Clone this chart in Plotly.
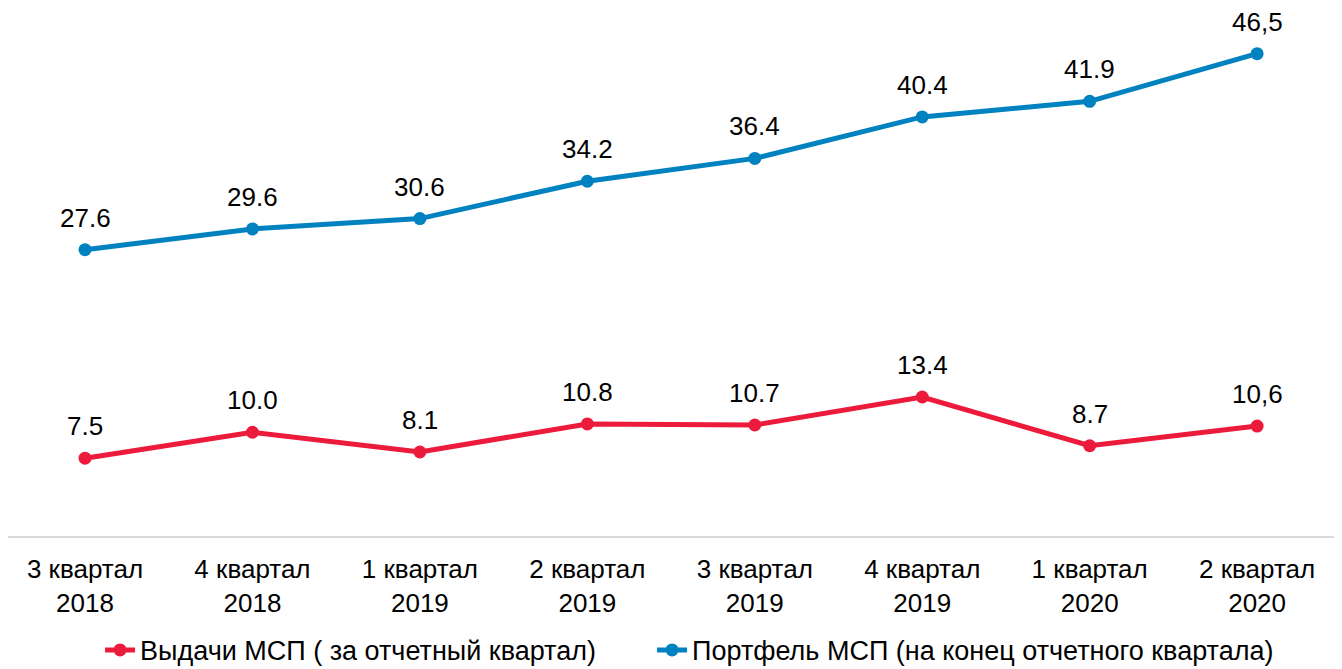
import plotly.graph_objects as go

# данные графика
кварталы = ["3 квартал<br>2018", "4 квартал<br>2018", "1 квартал<br>2019", "2 квартал<br>2019",
            "3 квартал<br>2019", "4 квартал<br>2019", "1 квартал<br>2020", "2 квартал<br>2020"]
выдачи = [7.5, 10.0, 8.1, 10.8, 10.7, 13.4, 8.7, 10.6]
выдачи_подписи = ["7.5", "10.0", "8.1", "10.8", "10.7", "13.4", "8.7", "10,6"]
портфель = [27.6, 29.6, 30.6, 34.2, 36.4, 40.4, 41.9, 46.5]
портфель_подписи = ["27.6", "29.6", "30.6", "34.2", "36.4", "40.4", "41.9", "46,5"]

красный = "#ED1B3B"
синий = "#0082C0"
шрифт = "Liberation Sans, Arial, sans-serif"

fig = go.Figure()

fig.add_trace(go.Scatter(
    x=кварталы, y=выдачи, mode="lines+markers",
    name="Выдачи МСП ( за отчетный квартал)",
    line=dict(color=красный, width=5),
    marker=dict(color=красный, size=13),
    legend="legend",
))
fig.add_trace(go.Scatter(
    x=кварталы, y=портфель, mode="lines+markers",
    name="Портфель МСП (на конец отчетного квартала)",
    line=dict(color=синий, width=5),
    marker=dict(color=синий, size=13),
    legend="legend2",
))

# подписи значений над точками
for значения, подписи in [(выдачи, выдачи_подписи), (портфель, портфель_подписи)]:
    for кв, v, t in zip(кварталы, значения, подписи):
        fig.add_annotation(x=кв, y=v, text=t, showarrow=False, yshift=32,
                           yanchor="middle", font=dict(size=26, color="#000000", family=шрифт))

# страница рисуется со сдвигом 8px (отступ body), поэтому размер чуть меньше окна
легенда = dict(orientation="h", y=-0.263, yanchor="bottom", xanchor="left",
               font=dict(size=27), bgcolor="rgba(0,0,0,0)")
fig.update_layout(
    width=1334, height=661,
    margin=dict(l=0, r=0, t=0, b=133, autoexpand=False),
    plot_bgcolor="white", paper_bgcolor="white",
    font=dict(family=шрифт, size=26, color="#000000"),
    showlegend=True,
    legend=dict(легенда, x=0.069),
    legend2=dict(легенда, x=0.4828),
)
fig.update_xaxes(showgrid=False, showline=True, linecolor="#D9D9D9", linewidth=2,
                 range=[-0.46, 7.507], ticks="", ticklabelstandoff=9, automargin=False,
                 tickfont=dict(size=26))
fig.update_yaxes(range=[0, 50.9], visible=False, showgrid=False, zeroline=False)

fig.write_html("out.html")
